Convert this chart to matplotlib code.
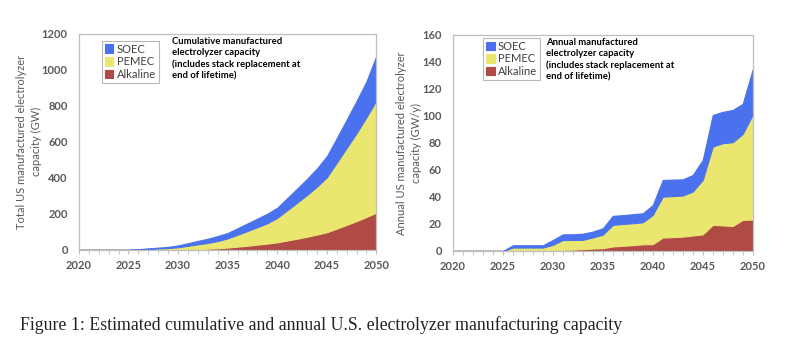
import matplotlib.pyplot as plt
import matplotlib.ticker as mticker
import numpy as np

plt.rcParams['font.family'] = ['Lato', 'DejaVu Sans']

years = np.arange(2020, 2051)

# cumulative manufactured capacity (GW)
cum_alkaline = [0, 0, 0, 0, 0, 0, 0, 0, 0.3, 0.6, 1.5, 3, 4.5, 6.5, 9, 13,
                18, 23, 29, 35, 42, 52, 62, 73, 85, 98, 118, 139, 160, 183, 207]
cum_pemec = [0, 0, 0, 0, 0, 0, 2.5, 5, 7.2, 9.4, 13, 19.6, 26.2, 32.4, 40, 51,
             66, 82, 97, 113, 136, 168, 200, 232, 266, 305, 366, 427, 488, 554, 623]
cum_soec = [0, 0, 0, 0, 0, 0, 1.7, 3.4, 5.1, 6.8, 10.5, 14.4, 19.3, 23.1, 28, 30,
            36, 42, 48, 53, 56, 67, 78, 89, 101, 117, 136, 157, 179, 199, 248]

# annual manufactured capacity (GW/y)
ann_alkaline = [0, 0, 0, 0, 0, 0, 0, 0, 0, 0, 0.3, 0.8, 1.0, 1.3, 1.8, 2.0,
                3.3, 3.8, 4.3, 4.9, 5.0, 9.9, 10.2, 10.6, 11.4, 12.3, 19.3, 18.9, 18.5, 23.0, 23.2]
ann_pemec = [0, 0, 0, 0, 0, 0, 2.5, 2.5, 2.5, 2.5, 4.2, 7.3, 7.1, 6.9, 8.2, 10.0,
             16.0, 16.2, 16.2, 16.3, 21.7, 30.3, 30.4, 30.4, 32.6, 40.3, 58.0, 60.9, 62.0, 63.7, 77.8]
ann_soec = [0, 0, 0, 0, 0, 0, 1.7, 1.7, 1.7, 1.7, 3.6, 4.2, 4.2, 4.6, 4.3, 4.8,
            6.7, 6.5, 6.7, 6.7, 7.3, 12.4, 12.2, 12.0, 12.3, 14.8, 23.4, 23.2, 23.9, 22.3, 33.5]

labels = ['Alkaline', 'PEMEC', 'SOEC']
colors = ['#b04a45', '#ebe66f', '#4a72ee']
grey = '#595959'
note = 'manufactured\nelectrolyzer capacity\n(includes stack replacement at\nend of lifetime)'

fig = plt.figure(figsize=(7.89, 3.49), dpi=100)
ax1 = fig.add_axes([0.100, 0.284, 0.377, 0.619])
ax2 = fig.add_axes([0.574, 0.281, 0.380, 0.619])


def draw(ax, series, ymax, ystep, ylabel, title, leg_xy, note_xy, lpad):
    polys = ax.stackplot(years, *series, colors=colors, labels=labels,
                         edgecolor='face', linewidth=0.8)
    ax.set_xlim(2020, 2050)
    ax.set_ylim(0, ymax)
    ax.xaxis.set_major_locator(mticker.MultipleLocator(5))
    ax.xaxis.set_minor_locator(mticker.MultipleLocator(1))
    ax.yaxis.set_major_locator(mticker.MultipleLocator(ystep))
    ax.tick_params(axis='x', which='both', direction='out', color='#bfbfbf',
                   labelcolor=grey, labelsize=8)
    ax.tick_params(axis='x', which='major', length=3, pad=4)
    ax.tick_params(axis='x', which='minor', length=3)
    ax.tick_params(axis='y', length=0, labelcolor=grey, labelsize=8, pad=8)
    for lbl in ax.get_xticklabels() + ax.get_yticklabels():
        lbl.set_fontweight('bold')
    for s in ax.spines.values():
        s.set_color('#bfbfbf')
        s.set_linewidth(0.9)
    ax.set_ylabel(ylabel, color=grey, fontsize=8, labelpad=lpad, linespacing=1.45)
    handles = polys[::-1]
    leg = ax.legend(handles, labels[::-1], loc='upper left', bbox_to_anchor=leg_xy,
                    borderaxespad=0, fontsize=8, frameon=True, fancybox=False,
                    handlelength=0.8, handleheight=0.8, handletextpad=0.3,
                    borderpad=0.25, labelspacing=0.15, labelcolor='#404040')
    leg.get_frame().set_edgecolor('#a6a6a6')
    leg.get_frame().set_linewidth(0.8)
    ax.text(note_xy[0], note_xy[1], title + ' ' + note, transform=ax.transAxes,
            ha='left', va='top', fontsize=6.8, fontweight='bold', color='black',
            linespacing=1.3)


draw(ax1, [cum_alkaline, cum_pemec, cum_soec], 1200, 200,
     'Total US manufactured electrolyzer\ncapacity (GW)', 'Cumulative',
     (0.077, 0.968), (0.313, 0.985), 0)
draw(ax2, [ann_alkaline, ann_pemec, ann_soec], 160, 20,
     'Annual US manufactured electrolyzer\ncapacity (GW/y)', 'Annual',
     (0.100, 0.986), (0.31, 0.985), 0)

fig.text(0.025, 0.069, 'Figure 1: Estimated cumulative and annual U.S. electrolyzer manufacturing capacity',
         family='Liberation Serif', fontsize=12.8, color='#222222', va='center', ha='left')

fig.savefig('out.png', dpi=100)
